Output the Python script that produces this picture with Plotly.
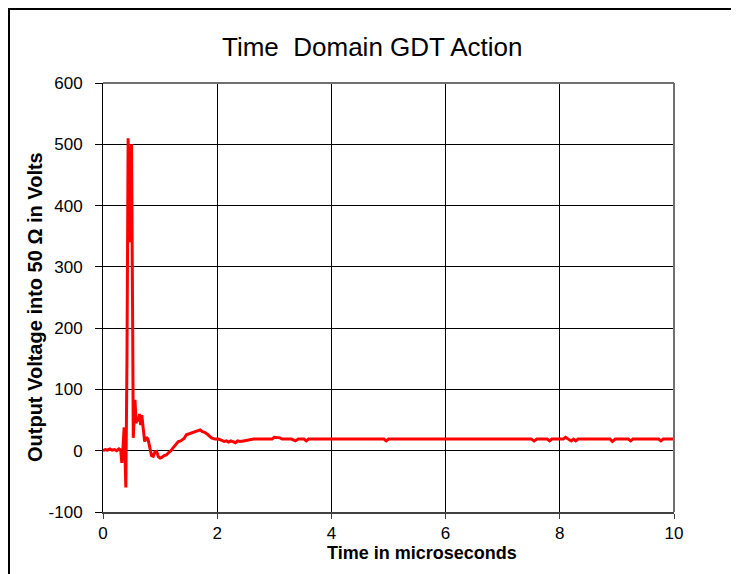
import plotly.graph_objects as go

# Time in microseconds and output voltage (V)
time_us = [0.00, 0.04, 0.08, 0.12, 0.16, 0.20, 0.24, 0.28, 0.31, 0.33, 0.35, 0.37, 0.38, 0.40,
           0.42, 0.44, 0.455, 0.47, 0.49, 0.50, 0.52, 0.53, 0.55, 0.56, 0.58, 0.60, 0.62,
           0.64, 0.66, 0.68, 0.70, 0.71, 0.73, 0.76, 0.79, 0.82, 0.85, 0.88, 0.91, 0.94,
           0.97, 1.00, 1.03, 1.07, 1.11, 1.15, 1.19, 1.23, 1.28, 1.32, 1.36, 1.42, 1.46,
           1.52, 1.58, 1.64, 1.70, 1.74, 1.78, 1.84, 1.90, 1.96, 2.02, 2.08, 2.12, 2.16,
           2.20, 2.24, 2.28, 2.32, 2.36, 2.40, 2.46, 2.52, 2.58, 2.64, 2.72, 2.80, 2.88,
           2.96, 3.00, 3.06, 3.10, 3.14, 3.30, 3.37, 3.42, 3.52, 3.56, 3.60, 4.00, 4.50,
           4.92, 4.96, 5.00, 5.50, 6.00, 6.50, 7.00, 7.50, 7.55, 7.60, 7.78, 7.82, 7.86,
           8.06, 8.10, 8.14, 8.20, 8.24, 8.28, 8.32, 8.40, 8.60, 8.88, 8.92, 8.97, 9.20,
           9.24, 9.28, 9.60, 9.73, 9.77, 9.81, 10.00]
voltage_v = [0, 2, 1, 3, 1, 2, 0, 3, 1, -20, 5, 38, 10, -60,
             150, 510, 420, 340, 490, 500, 200, 21, 60, 83, 45, 55, 48,
             60, 42, 58, 40, 30, 15, 22, 18, 5, -8, -9, -2, -1,
             -10, -12, -11, -8, -7, -3, 0, 5, 10, 15, 16, 20, 26,
             28, 30, 31, 34, 31, 30, 26, 21, 19, 19, 17, 15, 16,
             14, 16, 15, 13, 16, 15, 16, 17, 19, 19, 19, 19, 19,
             19, 22, 22, 21, 19, 19, 16, 19, 19, 16, 19, 19, 19,
             19, 16, 19, 19, 19, 19, 19, 19, 16, 19, 19, 16, 19,
             19, 22, 19, 16, 19, 16, 19, 19, 19, 19, 15, 19, 19,
             16, 19, 19, 19, 16, 19, 19]

x_ticks = [0, 2, 4, 6, 8, 10]
y_ticks = [-100, 0, 100, 200, 300, 400, 500, 600]

chart_title = "Time  Domain GDT Action"
x_title = "Time in microseconds"
y_title = "Output Voltage into 50 Ω in Volts"

# figure geometry (the page body adds an 8 px offset)
W, H = 731, 566
L, R, T, B = 95, 65, 75, 62
PW, PH = W - L - R, H - T - B


def px(fx):
    return (fx - L) / PW


def py(fy):
    return (H - B - fy) / PH


fig = go.Figure()
fig.add_trace(go.Scatter(
    x=time_us, y=voltage_v, mode="lines",
    line=dict(color="#ff0000", width=3),
    showlegend=False,
))

font_family = "Liberation Sans, Arial, sans-serif"

fig.update_layout(
    width=W, height=H,
    margin=dict(l=L, r=R, t=T, b=B),
    paper_bgcolor="white", plot_bgcolor="white",
    font=dict(family=font_family, color="black"),
    xaxis=dict(
        range=[0, 10], tickvals=x_ticks, ticktext=[str(v) for v in x_ticks],
        showgrid=True, gridcolor="black", gridwidth=1,
        zeroline=False, showline=True, linecolor="#404040", linewidth=2,
        ticks="outside", ticklen=5, tickcolor="#404040",
        tickfont=dict(size=17, color="black"),
        ticklabelstandoff=0,
    ),
    yaxis=dict(
        range=[-100, 600], tickvals=y_ticks, ticktext=[str(v) for v in y_ticks],
        showgrid=True, gridcolor="black", gridwidth=1,
        zeroline=False, showline=True, linecolor="black", linewidth=1,
        ticks="outside", ticklen=7, tickcolor="black",
        tickfont=dict(size=17, color="black"),
        ticklabelstandoff=9,
    ),
    annotations=[
        dict(text=chart_title, xref="paper", yref="paper",
             x=px(364), y=py(39), xanchor="center", yanchor="middle",
             showarrow=False, font=dict(family=font_family, size=26, color="black")),
        dict(text="<b>" + x_title + "</b>", xref="paper", yref="paper",
             x=px(414), y=py(545), xanchor="center", yanchor="middle",
             showarrow=False, font=dict(family=font_family, size=18, color="black")),
        dict(text="<b>" + y_title + "</b>", xref="paper", yref="paper",
             x=px(27), y=py(299), xanchor="center", yanchor="middle", textangle=-90,
             showarrow=False, font=dict(family=font_family, size=20, color="black")),
    ],
    shapes=[
        dict(type="rect", xref="paper", yref="paper",
             x0=px(1), x1=px(W + 40), y0=py(H + 40), y1=py(1),
             line=dict(color="black", width=2), fillcolor="rgba(0,0,0,0)", layer="below"),
        dict(type="line", xref="paper", yref="paper", x0=1, x1=1, y0=0, y1=1,
             line=dict(color="#707070", width=2)),
        dict(type="line", xref="paper", yref="paper", x0=0, x1=1, y0=1, y1=1,
             line=dict(color="#707070", width=2)),
    ],
)

fig.write_html("out.html")
